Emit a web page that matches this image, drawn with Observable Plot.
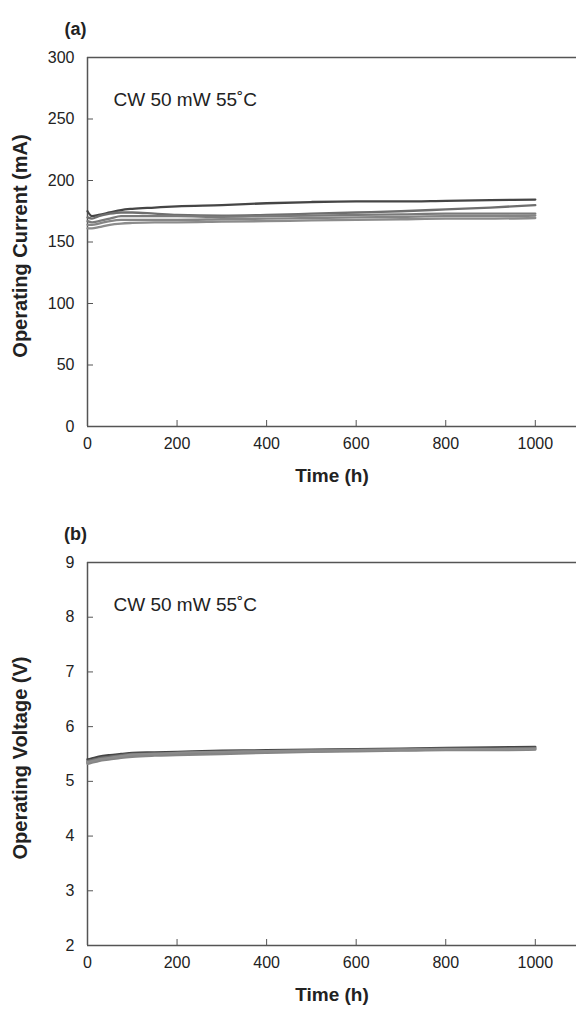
<!DOCTYPE html>
<html>
<head>
<meta charset="utf-8">
<script src="https://cdn.jsdelivr.net/npm/d3@7"></script>
<script src="https://cdn.jsdelivr.net/npm/@observablehq/plot@0.6"></script>
<style>
  body { margin: 0; background: #fff; }
  #chart svg { display: block; }
</style>
</head>
<body>
<div id="chart"></div>
<script>
// ---- data ----
const time = [0, 10, 25, 50, 75, 100, 150, 200, 300, 400, 500, 600, 700, 800, 900, 1000];

const current1 = [175, 171, 172, 174, 176, 177, 178, 179, 180, 181.5, 182.5, 183, 183, 183.5, 184, 184.5];
const current2 = [170, 169, 171, 173, 174, 174, 173, 172, 171.5, 172, 173, 174, 175, 176.5, 178, 180];
const current3 = [167, 166, 167, 169, 171, 171, 171, 171, 170.5, 171, 171.5, 172, 172.5, 173, 173, 173];
const current4 = [164, 164, 165, 167, 168, 168, 168, 168, 168.5, 169, 169.5, 170, 170.5, 171, 171, 171.5];
const current5 = [161, 161, 162, 164, 165, 165.5, 166, 166, 166.5, 167, 167.5, 168, 168.5, 169, 169, 169.5];

const voltage1 = [5.40, 5.42, 5.45, 5.48, 5.50, 5.52, 5.53, 5.54, 5.56, 5.57, 5.58, 5.59, 5.60, 5.61, 5.62, 5.63];
const voltage2 = [5.37, 5.39, 5.42, 5.45, 5.48, 5.50, 5.51, 5.52, 5.54, 5.55, 5.57, 5.58, 5.59, 5.60, 5.60, 5.61];
const voltage3 = [5.34, 5.36, 5.39, 5.42, 5.45, 5.47, 5.49, 5.50, 5.52, 5.54, 5.55, 5.56, 5.57, 5.58, 5.58, 5.59];
const voltage4 = [5.32, 5.34, 5.37, 5.40, 5.43, 5.45, 5.47, 5.48, 5.50, 5.52, 5.54, 5.55, 5.56, 5.57, 5.57, 5.58];
const voltage5 = [5.35, 5.37, 5.40, 5.43, 5.46, 5.49, 5.50, 5.52, 5.54, 5.55, 5.56, 5.57, 5.58, 5.59, 5.59, 5.60];

const series = ["S1", "S2", "S3", "S4", "S5"];
const seriesColors = ["#454545", "#6e6e6e", "#7a7a7a", "#858585", "#8c8c8c"];

const xTicks = [0, 200, 400, 600, 800, 1000];
const xDomain = [0, 1092];
const currentTicks = [0, 50, 100, 150, 200, 250, 300];
const currentDomain = [0, 300];
const voltageTicks = [2, 3, 4, 5, 6, 7, 8, 9];
const voltageDomain = [2, 9];

const annotation = "CW 50 mW 55˚C";
const xLabel = "Time (h)";

function toRows(arrays) {
  const rows = [];
  arrays.forEach((arr, i) => arr.forEach((v, j) => rows.push({series: series[i], time: time[j], value: v})));
  return rows;
}
const currentData = toRows([current1, current2, current3, current4, current5]);
const voltageData = toRows([voltage1, voltage2, voltage3, voltage4, voltage5]);

const axisColor = "#555";
const font = "'Liberation Sans', Arial, Helvetica, sans-serif";
const plain = d => String(d);

function panel({data, yDomain, yTicks, yLabel, tag, height, marginBottom}) {
  return Plot.plot({
    width: 576,
    height,
    marginTop: 57,
    marginLeft: 87,
    marginRight: 0,
    marginBottom,
    style: {fontFamily: font, fontSize: "16px", color: "#222", background: "#fff", overflow: "visible"},
    x: {domain: xDomain},
    y: {domain: yDomain},
    color: {domain: series, range: seriesColors},
    marks: [
      // frame: left, bottom, top
      Plot.ruleX([xDomain[0]], {stroke: axisColor, strokeWidth: 1.5}),
      Plot.ruleY([yDomain[0]], {stroke: axisColor, strokeWidth: 1.5}),
      Plot.ruleY([yDomain[1]], {stroke: axisColor, strokeWidth: 1.5}),
      // inward ticks
      Plot.axisY(yTicks, {tickSize: 6, dx: 6, text: null, stroke: axisColor, label: null}),
      Plot.axisX(xTicks, {tickSize: 6, dy: -6, text: null, stroke: axisColor, label: null}),
      // tick labels
      Plot.axisY(yTicks, {tickSize: 0, tickPadding: 13, tickFormat: plain, label: null, fill: "#222"}),
      Plot.axisX(xTicks, {tickSize: 0, tickPadding: 11, tickFormat: plain, label: null, fill: "#222"}),
      // series
      Plot.line(data, {x: "time", y: "value", z: "series", stroke: "series", strokeWidth: 2.3, curve: "monotone-x"}),
      // annotation
      Plot.text([annotation], {frameAnchor: "top-left", dx: 26, dy: 35, textAnchor: "start", fontSize: 19, fill: "#222"}),
      // panel tag
      Plot.text([tag], {frameAnchor: "top-left", dx: -12, dy: -35, textAnchor: "middle", fontSize: 18, fontWeight: "bold", fill: "#222"}),
      // axis labels
      Plot.text([yLabel], {frameAnchor: "left", dx: -67, dy: 4, rotate: -90, textAnchor: "middle", fontSize: 20, fontWeight: "bold", fill: "#222"}),
      Plot.text([xLabel], {frameAnchor: "bottom", dy: 55, textAnchor: "middle", fontSize: 19, fontWeight: "bold", fill: "#222"})
    ]
  });
}

const chart = document.getElementById("chart");
chart.appendChild(panel({
  data: currentData, yDomain: currentDomain, yTicks: currentTicks,
  yLabel: "Operating Current (mA)", tag: "(a)", height: 505, marginBottom: 79
}));
chart.appendChild(panel({
  data: voltageData, yDomain: voltageDomain, yTicks: voltageTicks,
  yLabel: "Operating Voltage (V)", tag: "(b)", height: 504, marginBottom: 64
}));
</script>
</body>
</html>
